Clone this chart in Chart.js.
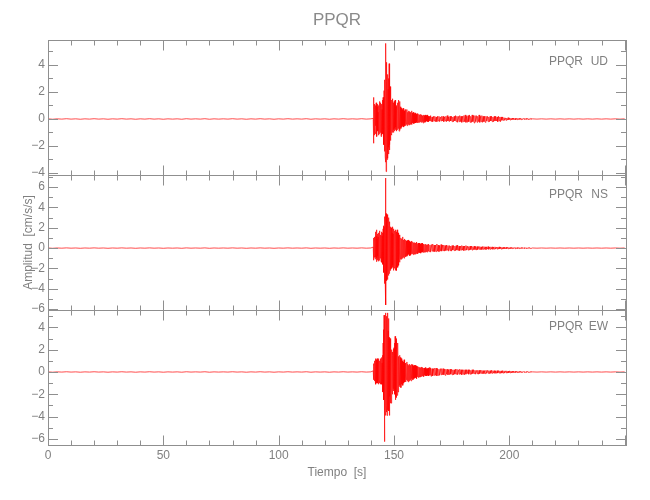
<!DOCTYPE html>
<html lang="es">
<head>
<meta charset="utf-8">
<title>PPQR</title>
<script src="https://cdn.jsdelivr.net/npm/chart.js@4.4.1/dist/chart.umd.min.js"></script>
<style>
  body { margin: 0; background: #fff; }
  #grafico { display: block; }
</style>
</head>
<body>
<canvas id="grafico" width="650" height="500"></canvas>
<script>
const estacion = "PPQR"
const componentes = ["UD", "NS", "EW"]

// limites de cada panel (cm/s/s) y etiquetas de los ejes
const limitesUD = [-4.15, 5.85]
const limitesNS = [-6.1, 7.2]
const limitesEW = [-6.55, 5.56]
const ticksUD = [-4, -2, 0, 2, 4]
const ticksNS = [-6, -4, -2, 0, 2, 4, 6]
const ticksEW = [-6, -4, -2, 0, 2, 4]
const ticksTiempo = [0, 50, 100, 150, 200]
const tiempoMax = 250.6

// ruido antes del sismo: desde 0 s cada 2 s
const ruidoAntes = [
  0.01, -0.02, 0.01, -0.01, 0.02, -0.01, 0.01, -0.02, 0.01, -0.01,
  0.02, -0.01, 0.01, -0.02, 0.01, -0.01, 0.02, -0.01, 0.01, -0.02,
  0.01, -0.01, 0.02, -0.01, 0.01, -0.02, 0.01, -0.01, 0.01, -0.02,
  0.02, -0.01, 0.01, -0.01, 0.02, -0.02, 0.01, -0.01, 0.01, -0.01,
  0.02, -0.01, 0.01, -0.02, 0.01, -0.01, 0.02, -0.01, 0.01, -0.02,
  0.01, -0.01, 0.02, -0.01, 0.01, -0.01, 0.02, -0.02, 0.01, -0.01,
  0.01, -0.02, 0.01, -0.01, 0.02, -0.01, 0.01, -0.01, 0.02, -0.01, 0.01
]
// ruido al final: desde 210 s cada 2 s
const ruidoDespues = [
  0.01, -0.01, 0.01, -0.01, 0.01, -0.01, 0.01, -0.01, 0.01, -0.01, 0.01,
  -0.01, 0.01, -0.01, 0.01, -0.01, 0.01, -0.01, 0.01, -0.01, 0.01
]

// UD: 141.0 s cada 0.1 s / 151.0 s cada 0.2 s / 165.0 s cada 0.3 s
const fuerteUD = [
  0.05, 1.6, -1.8, 0.9, -0.6, 1.1, -1.2, 0.7, -0.9, 1.0,
  -1.1, 0.6, -0.5, 1.2, -1.0, 0.8, -1.3, 0.9, -0.7, 1.1,
  -0.9, 0.5, -1.2, 1.0, -0.6, 0.9, -1.1, 1.3, -0.8, 0.6,
  -1.0, 1.2, -0.7, 0.8, -1.3, 1.0, -0.9, 1.1, -1.2, 0.7,
  -1.0, 1.4, -1.1, 1.6, -1.5, 1.3, -1.9, 2.1, -1.7, 2.6,
  -2.4, 2.9, -2.8, 3.6, -3.2, 5.6, -3.9, 4.2, -3.4, 2.8,
  -3.0, 3.3, -2.5, 2.7, -2.9, 2.2, -2.6, 3.0, -2.1, 4.1,
  -2.3, 2.9, -1.9, 2.4, -1.6, 1.8, -1.3, 1.5, -1.1, 1.4,
  -1.2, 1.3, -0.9, 1.5, -1.0, 1.1, -0.8, 1.2, -1.0, 0.9,
  -0.8, 1.3, -0.9, 1.0, -0.7, 1.4, -0.8, 1.1, -0.6, 0.9
]
const medioUD = [
  -0.9, 1.0, -0.8, 1.2, -0.7, 1.4, -0.9, 1.3, -0.8, 0.9,
  -0.7, 0.8, -0.6, 0.7, -0.5, 0.8, -0.6, 0.6, -0.5, 0.7,
  -0.5, 0.6, -0.4, 0.7, -0.5, 0.5, -0.4, 0.6, -0.45, 0.55,
  -0.4, 0.5, -0.35, 0.6, -0.4, 0.45, -0.3, 0.5, -0.35, 0.4,
  -0.3, 0.45, -0.3, 0.35, -0.25, 0.4, -0.3, 0.3, -0.25, 0.35,
  -0.25, 0.3, -0.2, 0.35, -0.25, 0.3, -0.2, 0.25, -0.3, 0.3,
  -0.2, 0.25, -0.25, 0.3, -0.2, 0.25, -0.15, 0.3, -0.2, 0.2
]
const colaUD = [
  -0.2, 0.2, -0.15, 0.25, -0.2, 0.15, -0.2, 0.2, -0.15, 0.2,
  -0.2, 0.15, -0.2, 0.2, -0.15, 0.2, -0.2, 0.15, -0.15, 0.2,
  -0.15, 0.2, -0.2, 0.15, -0.15, 0.2, -0.2, 0.25, -0.15, 0.15,
  -0.2, 0.2, -0.15, 0.2, -0.2, 0.15, -0.2, 0.2, -0.15, 0.25,
  -0.2, 0.2, -0.25, 0.2, -0.2, 0.25, -0.2, 0.2, -0.25, 0.2,
  -0.2, 0.25, -0.2, 0.3, -0.25, 0.2, -0.25, 0.25, -0.2, 0.3,
  -0.25, 0.2, -0.25, 0.3, -0.2, 0.25, -0.3, 0.25, -0.2, 0.25,
  -0.25, 0.2, -0.2, 0.3, -0.25, 0.2, -0.2, 0.25, -0.25, 0.2,
  -0.2, 0.2, -0.25, 0.2, -0.15, 0.2, -0.2, 0.15, -0.2, 0.2,
  -0.15, 0.2, -0.2, 0.15, -0.2, 0.2, -0.15, 0.2, -0.15, 0.15,
  -0.2, 0.2, -0.15, 0.15, -0.2, 0.15, -0.1, 0.15, -0.1, 0.1,
  -0.1, 0.08, -0.1, 0.07, -0.08, 0.1, -0.06, 0.07, -0.08, 0.06,
  -0.06, 0.07, -0.05, 0.06, -0.05, 0.05, -0.06, 0.04, -0.05, 0.05,
  -0.04, 0.05, -0.04, 0.04, -0.05, 0.03, -0.04, 0.04, -0.03, 0.04,
  -0.03, 0.04, -0.03, 0.03, -0.04, 0.03, -0.02, 0.03, -0.03, 0.02
]

// NS
const fuerteNS = [
  0.1, 1.0, -1.2, 0.8, -0.9, 1.1, -0.7, 0.9, -1.0, 1.3,
  -1.1, 1.6, -0.9, 1.2, -1.35, 1.8, -1.0, 0.9, -1.2, 1.4,
  -0.8, 1.1, -1.3, 1.5, -0.9, 1.0, -1.2, 1.7, -1.1, 0.8,
  -1.0, 1.3, -0.8, 1.2, -1.3, 1.6, -1.0, 1.1, -1.4, 1.2,
  -1.1, 1.5, -1.6, 1.9, -1.8, 2.2, -2.4, 2.1, -3.5, 2.9,
  -2.6, 3.1, -3.3, 2.8, 6.9, -5.6, 3.4, -3.0, 2.6, -3.2,
  3.3, -2.8, 2.5, -3.1, 2.9, -2.4, 3.0, -2.7, 2.2, -2.5,
  2.6, -2.0, 1.9, -2.2, 2.1, -1.8, 1.7, -2.1, 2.0, -1.6,
  1.8, -2.0, 1.5, -1.9, 2.1, -1.7, 1.4, -2.2, 1.6, -1.5,
  1.9, -1.8, 1.3, -2.0, 1.7, -1.6, 1.5, -2.2, 1.8, -1.4
]
const medioNS = [
  1.6, -2.2, 1.8, -1.9, 1.5, -1.7, 1.3, -1.4, 1.2, -1.1,
  1.0, -1.1, 0.9, -1.0, 1.1, -0.9, 0.8, -1.0, 0.9, -0.8,
  0.8, -0.85, 0.7, -0.8, 0.75, -0.7, 0.8, -0.6, 0.7, -0.75,
  0.6, -0.7, 0.65, -0.6, 0.7, -0.55, 0.6, -0.65, 0.5, -0.6,
  0.55, -0.6, 0.5, -0.55, 0.6, -0.5, 0.45, -0.55, 0.5, -0.45,
  0.5, -0.45, 0.4, -0.5, 0.45, -0.4, 0.5, -0.4, 0.35, -0.45,
  0.4, -0.4, 0.35, -0.4, 0.4, -0.35, 0.3, -0.4, 0.35, -0.3
]
const colaNS = [
  0.4, -0.35, 0.3, -0.4, 0.35, -0.3, 0.4, -0.35, 0.3, -0.35,
  0.3, -0.35, 0.4, -0.3, 0.3, -0.35, 0.25, -0.3, 0.35, -0.3,
  0.3, -0.25, 0.3, -0.3, 0.25, -0.25, 0.3, -0.2, 0.25, -0.3,
  0.25, -0.25, 0.2, -0.3, 0.25, -0.2, 0.25, -0.25, 0.2, -0.25,
  0.25, -0.2, 0.3, -0.25, 0.2, -0.25, 0.2, -0.2, 0.25, -0.2,
  0.2, -0.25, 0.2, -0.2, 0.25, -0.2, 0.2, -0.2, 0.15, -0.2,
  0.2, -0.15, 0.2, -0.2, 0.15, -0.15, 0.2, -0.15, 0.15, -0.2,
  0.15, -0.15, 0.15, -0.12, 0.15, -0.15, 0.12, -0.15, 0.15, -0.12,
  0.15, -0.12, 0.12, -0.15, 0.12, -0.1, 0.15, -0.12, 0.1, -0.12,
  0.12, -0.1, 0.12, -0.12, 0.1, -0.1, 0.12, -0.1, 0.1, -0.1,
  0.1, -0.1, 0.12, -0.08, 0.1, -0.1, 0.08, -0.1, 0.08, -0.08,
  0.08, -0.07, 0.08, -0.06, 0.07, -0.07, 0.06, -0.07, 0.06, -0.06,
  0.06, -0.05, 0.06, -0.05, 0.05, -0.06, 0.05, -0.04, 0.05, -0.05,
  0.04, -0.05, 0.04, -0.04, 0.05, -0.04, 0.04, -0.03, 0.04, -0.04,
  0.03, -0.04, 0.03, -0.03, 0.04, -0.03, 0.03, -0.03, 0.02, -0.03
]

// EW
const fuerteEW = [
  0.1, 0.75, -0.7, 0.5, -0.6, 0.9, -0.8, 1.0, -0.7, 1.2,
  -0.9, 0.8, -1.1, 1.1, -0.7, 0.9, -1.0, 1.2, -0.8, 0.7,
  -1.0, 1.1, -0.9, 0.8, -1.1, 1.2, -0.7, 0.9, -1.0, 1.0,
  -0.8, 1.2, -1.1, 0.9, -0.9, 1.1, -1.0, 1.3, -1.1, 0.8,
  -1.2, 1.5, -1.8, 2.6, -2.2, 3.8, -2.5, 5.1, -2.9, 4.2,
  -6.25, 4.6, -3.5, 3.2, -3.9, 5.3, -3.0, 4.4, -3.6, 5.0,
  -3.9, 4.1, -3.2, 5.3, -3.4, 3.7, -2.9, 4.8, -3.5, 3.1,
  -3.9, 2.7, -2.2, 3.0, -2.8, 2.2, -2.6, 1.9, -2.8, 1.7,
  -2.1, 2.0, -1.6, 1.8, -2.0, 1.5, -1.4, 2.1, -1.7, 1.6,
  -1.5, 2.2, -1.8, 2.6, -2.0, 3.2, -2.5, 2.4, -2.2, 2.8
]
const medioEW = [
  -2.3, 3.0, -2.1, 2.6, -1.8, 1.4, -1.3, 1.5, -1.2, 1.3,
  -1.4, 1.2, -1.1, 1.0, -1.2, 0.9, -1.0, 1.1, -0.9, 0.8,
  -0.9, 0.8, -0.7, 0.9, -0.8, 0.7, -0.9, 0.6, -0.8, 0.7,
  -0.7, 0.6, -0.8, 0.7, -0.6, 0.65, -0.7, 0.55, -0.6, 0.6,
  -0.55, 0.6, -0.5, 0.55, -0.6, 0.5, -0.45, 0.5, -0.5, 0.45,
  -0.45, 0.4, -0.45, 0.4, -0.4, 0.45, -0.35, 0.4, -0.4, 0.35,
  -0.4, 0.35, -0.3, 0.4, -0.35, 0.3, -0.35, 0.3, -0.3, 0.35
]
const colaEW = [
  -0.35, 0.4, -0.3, 0.35, -0.4, 0.3, -0.35, 0.3, -0.3, 0.35,
  -0.3, 0.35, -0.35, 0.3, -0.3, 0.25, -0.3, 0.3, -0.25, 0.3,
  -0.25, 0.3, -0.25, 0.25, -0.3, 0.25, -0.2, 0.25, -0.25, 0.2,
  -0.25, 0.25, -0.2, 0.25, -0.25, 0.2, -0.25, 0.2, -0.2, 0.25,
  -0.2, 0.25, -0.25, 0.2, -0.2, 0.25, -0.2, 0.2, -0.25, 0.2,
  -0.2, 0.2, -0.25, 0.2, -0.2, 0.2, -0.15, 0.2, -0.2, 0.2,
  -0.2, 0.15, -0.2, 0.2, -0.15, 0.2, -0.15, 0.15, -0.2, 0.15,
  -0.15, 0.15, -0.2, 0.15, -0.15, 0.15, -0.12, 0.15, -0.15, 0.12,
  -0.15, 0.12, -0.15, 0.15, -0.12, 0.15, -0.12, 0.12, -0.15, 0.12,
  -0.12, 0.15, -0.12, 0.12, -0.1, 0.12, -0.12, 0.1, -0.12, 0.12,
  -0.1, 0.12, -0.1, 0.1, -0.12, 0.1, -0.1, 0.12, -0.1, 0.1,
  -0.1, 0.1, -0.08, 0.1, -0.1, 0.08, -0.08, 0.1, -0.08, 0.08,
  -0.08, 0.07, -0.06, 0.07, -0.06, 0.06, -0.05, 0.06, -0.05, 0.05,
  -0.05, 0.05, -0.04, 0.05, -0.04, 0.04, -0.05, 0.04, -0.03, 0.04,
  -0.04, 0.03, -0.03, 0.04, -0.03, 0.03, -0.03, 0.02, -0.03, 0.03
]

const colorEje = "#8f8f8f"
const colorTexto = "#808080"
const fuente = "'Liberation Sans', Arial, sans-serif"
const letra = (size) => ({ family: fuente, size: size, weight: "normal" })

// arma la serie (t, valor) con el inicio y el paso de muestreo de cada tramo
const tramo = (inicio, paso, valores) =>
  valores.map((v, i) => ({ x: Math.round((inicio + i * paso) * 100) / 100, y: v }))

const serie = (fuerte, medio, cola) => [
  ...tramo(0, 2, ruidoAntes),
  ...tramo(141, 0.1, fuerte),
  ...tramo(151, 0.2, medio),
  ...tramo(165, 0.3, cola),
  ...tramo(210, 2, ruidoDespues)
]

const paneles = [
  { id: "yUD", comp: componentes[0], lim: limitesUD, ticks: ticksUD, datos: serie(fuerteUD, medioUD, colaUD) },
  { id: "yNS", comp: componentes[1], lim: limitesNS, ticks: ticksNS, datos: serie(fuerteNS, medioNS, colaNS) },
  { id: "yEW", comp: componentes[2], lim: limitesEW, ticks: ticksEW, datos: serie(fuerteEW, medioEW, colaEW) }
]

const formatoY = (v) => (v < 0 ? "\u2212" + Math.abs(v) : "" + v)

const escalaY = (p) => ({
  type: "linear",
  position: "left",
  stack: "sismo",
  stackWeight: 1,
  min: p.lim[0],
  max: p.lim[1],
  grid: { display: false, drawTicks: false },
  border: { display: false },
  afterFit: (s) => { s.width = 48 },
  afterBuildTicks: (s) => { s.ticks = p.ticks.map((v) => ({ value: v })) },
  ticks: { color: colorTexto, font: letra(12), padding: 3, autoSkip: false, callback: formatoY },
  title: {
    display: p.id === "yNS",
    text: "Amplitud  [cm/s/s]",
    color: colorTexto,
    font: letra(12),
    padding: { top: 21, bottom: 0 }
  }
})

// marco, ticks menores hacia adentro y nombre de cada componente
const marco = {
  id: "marco",
  afterDraw(chart) {
    const ctx = chart.ctx
    const x = chart.scales.x
    const l = chart.chartArea.left
    const r = chart.chartArea.right
    const linea = (x1, y1, x2, y2) => {
      ctx.beginPath(); ctx.moveTo(x1, y1); ctx.lineTo(x2, y2); ctx.stroke()
    }
    ctx.save()
    ctx.strokeStyle = colorEje
    ctx.lineWidth = 1
    paneles.forEach((p) => {
      const y = chart.scales[p.id]
      const arriba = Math.round(y.top) + 0.5
      const abajo = Math.round(y.bottom) + 0.5
      ctx.strokeRect(Math.round(l) + 0.5, arriba, Math.round(r - l), abajo - arriba)
      for (let t = 10; t < x.max; t += 10) {
        const px = Math.round(x.getPixelForValue(t)) + 0.5
        const largo = t % 50 === 0 ? 10 : 5
        linea(px, arriba, px, arriba + largo)
        linea(px, abajo, px, abajo - largo)
      }
      for (let v = Math.ceil(y.min); v <= y.max; v++) {
        const py = Math.round(y.getPixelForValue(v)) + 0.5
        const largo = v % 2 === 0 ? 10 : 5
        linea(l, py, l + largo, py)
        linea(r, py, r - largo, py)
      }
      ctx.fillStyle = colorTexto
      ctx.font = "12px " + fuente
      ctx.textBaseline = "middle"
      ctx.textAlign = "right"
      const py = y.getPixelForValue(y.max * 0.73)
      ctx.fillText(estacion, r - 43, py)
      ctx.fillText(p.comp, r - 18, py)
    })
    ctx.restore()
  }
}

const ctx = document.getElementById("grafico")
const escalas = {
  x: {
    type: "linear",
    position: "bottom",
    min: 0,
    max: tiempoMax,
    grid: { display: false, drawTicks: false },
    border: { display: false },
    afterFit: (s) => { s.height = 55 },
    afterBuildTicks: (s) => { s.ticks = ticksTiempo.map((v) => ({ value: v })) },
    ticks: { color: colorTexto, font: letra(12), padding: 3, maxRotation: 0, autoSkip: false },
    title: {
      display: true,
      text: "Tiempo  [s]",
      color: colorTexto,
      font: letra(12),
      padding: { top: 0, bottom: 20 }
    }
  }
}
// el ultimo eje del apilado queda arriba
paneles.slice().reverse().forEach((p) => { escalas[p.id] = escalaY(p) })

window.grafico = new Chart(ctx, {
  type: "line",
  data: {
    datasets: paneles.map((p) => ({
      label: p.comp,
      data: p.datos,
      yAxisID: p.id,
      borderColor: "#ff0000",
      borderWidth: 0.7,
      pointRadius: 0,
      tension: 0
    }))
  },
  options: {
    responsive: false,
    animation: false,
    parsing: false,
    layout: { padding: { left: 0, right: 24, top: 0, bottom: 0 } },
    scales: escalas,
    plugins: {
      legend: { display: false },
      tooltip: { enabled: false },
      title: {
        display: true,
        fullSize: false,
        text: estacion,
        color: "#8a8a8a",
        font: letra(17),
        padding: { top: 10, bottom: 9.6 }
      }
    }
  },
  plugins: [marco]
})
</script>
</body>
</html>
